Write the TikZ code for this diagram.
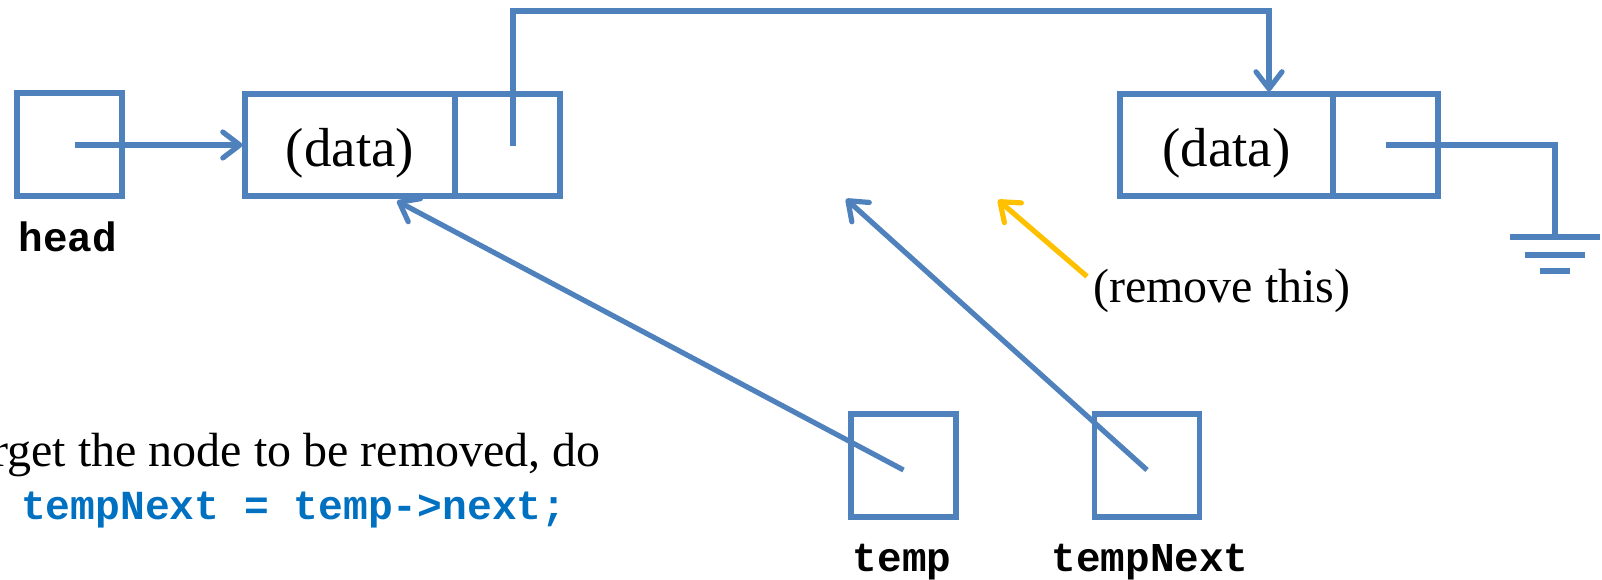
\documentclass[tikz,border=0pt]{standalone}
\usepackage{fontspec}
\setmainfont{Liberation Serif}
\setmonofont{Liberation Mono}
\usetikzlibrary{arrows.meta}
\definecolor{lnblue}{HTML}{4F81BD}
\definecolor{codeblue}{HTML}{0070C0}
\definecolor{ylw}{HTML}{FFC000}
\begin{document}
\begin{tikzpicture}[x=1pt,y=-1pt,
  box/.style={draw=lnblue, line width=5.2pt, rectangle, inner sep=0pt, minimum width=105pt, minimum height=103pt},
  cell/.style={draw=lnblue, line width=5.2pt, rectangle, inner sep=0pt, minimum height=102pt,
    font=\fontsize{55}{62}\selectfont, text height=54pt, text depth=10pt},
  lbl/.style={font=\fontsize{41}{48}\selectfont\ttfamily\bfseries, anchor=base, inner sep=0pt},
  ln/.style={draw=lnblue, line width=5.2pt},
  ptr/.style={draw=lnblue, line width=5.2pt, -{Straight Barb[length=17pt,width=26pt,round]}},
  serif/.style={font=\fontsize{48}{56}\selectfont, inner sep=0pt}
]
\useasboundingbox (0,0) rectangle (1602,580);
% head pointer
\node[box] (head) at (69.5,144.5) {};
\node[lbl] (headlbl) at (68,251) {head};
% list nodes
\node[cell, minimum width=210pt] (d1) at (350,145) {(data)};
\node[cell, minimum width=105pt] (p1) at (507.5,145) {};
\node[cell, minimum width=213pt] (d2) at (1226.5,145) {(data)};
\node[cell, minimum width=105pt] (p2) at (1385.5,145) {};
% temp pointers
\node[box] (temp) at (903.5,465.5) {};
\node[box] (tnext) at (1147,465.5) {};
\node[lbl] (templbl) at (902,571) {temp};
\node[lbl] (tnextlbl) at (1150,571) {tempNext};
% texts
\node[serif, anchor=base west] (rm) at (1093,302) {(remove this)};
\node[serif, anchor=base east] (txt) at (601,466) {rget the node to be removed, do};
\node[font=\fontsize{41.3}{48}\selectfont\ttfamily\bfseries, text=codeblue, anchor=base west, inner sep=0pt] (code) at (21,519) {tempNext = temp->next;};
% connectors
\coordinate (h0) at (75,145);
\draw[ptr] (h0) -- (d1.west);
\coordinate (s1) at (513,146);
\coordinate (top) at (1269,11);
\draw[ptr] (s1) |- (top) -- (d2.north -| top);
\coordinate (g) at (1555,237);
\draw[ln] (p2.center) -| (g);
\draw[ln] ([xshift=-45pt]g) -- ([xshift=45pt]g);
\draw[ln] ([xshift=-30pt,yshift=-18pt]g) -- ([xshift=30pt,yshift=-18pt]g);
\draw[ln] ([xshift=-15pt,yshift=-34pt]g) -- ([xshift=15pt,yshift=-34pt]g);
\coordinate (t1) at (397,201);
\draw[ptr] ([yshift=-4.5pt]temp.center) -- (t1);
\coordinate (t2) at (846,199);
\draw[ptr] ([yshift=-4.5pt]tnext.center) -- (t2);
\coordinate (yt) at (998,200);
\draw[ptr, draw=ylw] ([xshift=-6pt,yshift=-8pt]rm.north west) -- (yt);
\end{tikzpicture}
\end{document}
